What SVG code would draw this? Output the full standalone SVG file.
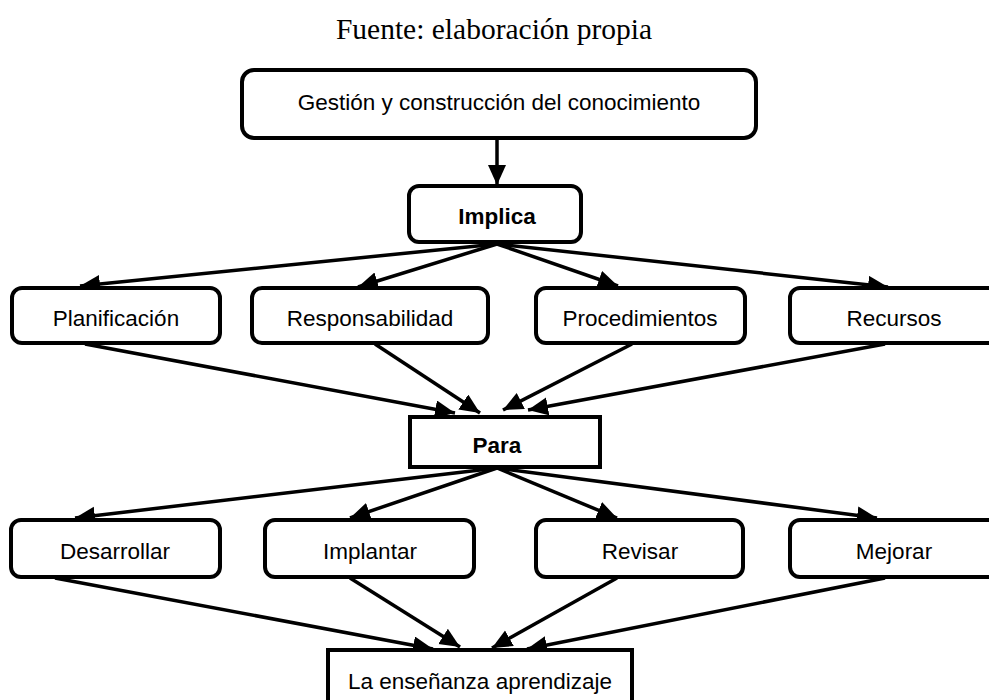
<svg xmlns="http://www.w3.org/2000/svg" width="989" height="700" viewBox="0 0 989 700">
<style>
.box{fill:#fff;stroke:#000;stroke-width:4}
.t{font-family:"Liberation Sans",Arial,sans-serif;font-size:22.5px;fill:#000;text-anchor:middle}
.b{font-weight:bold}
.c{stroke:#000;stroke-width:3.5;fill:none;marker-end:url(#ah)}
</style>
<defs>
<marker id="ah" markerUnits="userSpaceOnUse" markerWidth="22" markerHeight="20" refX="20" refY="9" orient="auto">
<path d="M0,0 L20,9 L0,18 Z" fill="#000"/>
</marker>
</defs>
<rect width="989" height="700" fill="#fff"/>
<text x="494" y="39" font-family="'Liberation Serif','Times New Roman',serif" font-size="29.5" text-anchor="middle">Fuente: elaboración propia</text>
<g id="connectors">
<line class="c" x1="497" y1="140" x2="497" y2="185"/>
<line class="c" x1="497" y1="244" x2="80" y2="286"/>
<line class="c" x1="497" y1="244" x2="358" y2="287"/>
<line class="c" x1="497" y1="244" x2="618" y2="286"/>
<line class="c" x1="497" y1="244" x2="888" y2="287"/>
<line class="c" x1="85" y1="344" x2="455" y2="413"/>
<line class="c" x1="375" y1="344" x2="480" y2="413"/>
<line class="c" x1="632" y1="344" x2="503" y2="410"/>
<line class="c" x1="885" y1="344" x2="528" y2="410"/>
<line class="c" x1="497" y1="468" x2="75" y2="518"/>
<line class="c" x1="497" y1="468" x2="350" y2="518"/>
<line class="c" x1="497" y1="468" x2="617" y2="518"/>
<line class="c" x1="497" y1="468" x2="877" y2="518"/>
<line class="c" x1="55" y1="578" x2="433" y2="649"/>
<line class="c" x1="350" y1="578" x2="460" y2="647"/>
<line class="c" x1="617" y1="578" x2="492" y2="648"/>
<line class="c" x1="885" y1="578" x2="527" y2="649"/>
</g>
<g id="n-gestion"><rect class="box" x="242" y="70" width="514" height="68" rx="12"/><text class="t" x="499" y="110">Gestión y construcción del conocimiento</text></g>
<g id="n-implica"><rect class="box" x="409" y="186" width="172" height="56" rx="10"/><text class="t b" x="497" y="224">Implica</text></g>
<g id="n-planificacion"><rect class="box" x="12" y="288" width="208" height="55" rx="10"/><text class="t" x="116" y="326">Planificación</text></g>
<g id="n-responsabilidad"><rect class="box" x="252" y="288" width="236" height="55" rx="10"/><text class="t" x="370" y="326">Responsabilidad</text></g>
<g id="n-procedimientos"><rect class="box" x="536" y="288" width="209" height="55" rx="10"/><text class="t" x="640" y="326">Procedimientos</text></g>
<g id="n-recursos"><rect class="box" x="790" y="288" width="210" height="55" rx="10"/><text class="t" x="894" y="326">Recursos</text></g>
<g id="n-para"><rect class="box" x="410" y="417" width="190" height="50"/><text class="t b" x="497" y="453">Para</text></g>
<g id="n-desarrollar"><rect class="box" x="11" y="520" width="209" height="57" rx="10"/><text class="t" x="115" y="559">Desarrollar</text></g>
<g id="n-implantar"><rect class="box" x="265" y="520" width="209" height="57" rx="10"/><text class="t" x="370" y="559">Implantar</text></g>
<g id="n-revisar"><rect class="box" x="536" y="520" width="207" height="57" rx="10"/><text class="t" x="640" y="559">Revisar</text></g>
<g id="n-mejorar"><rect class="box" x="790" y="520" width="210" height="57" rx="10"/><text class="t" x="894" y="559">Mejorar</text></g>
<g id="n-ensenanza"><rect class="box" x="328" y="650" width="304" height="60"/><text class="t" x="480" y="689">La enseñanza aprendizaje</text></g>
</svg>
